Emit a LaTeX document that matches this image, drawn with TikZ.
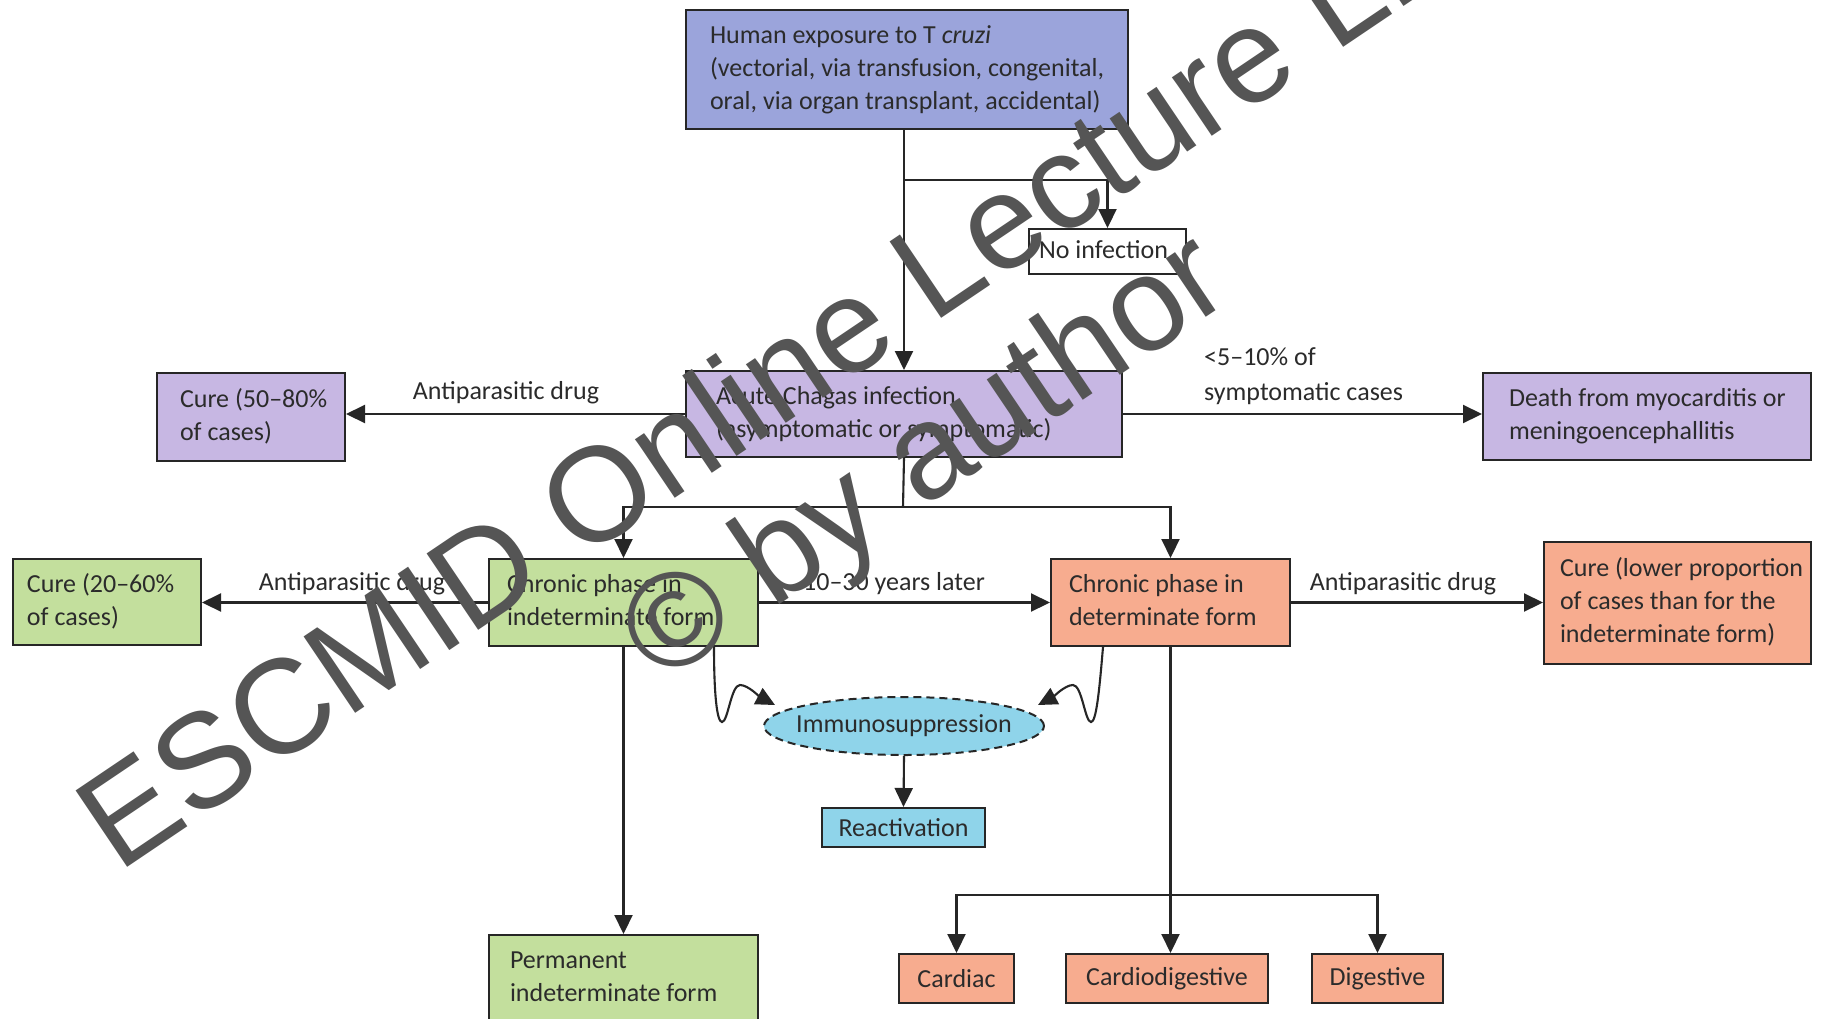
\documentclass[tikz,border=0pt]{standalone}
\usepackage{fontspec}
\setmainfont{Carlito}
\newfontfamily\wmfont{Liberation Sans}
\usetikzlibrary{arrows.meta,shapes.geometric}
\definecolor{blueF}{HTML}{9BA4DB}
\definecolor{lavF}{HTML}{C7B7E3}
\definecolor{greenF}{HTML}{C3DF9D}
\definecolor{orangeF}{HTML}{F7AC8F}
\definecolor{cyanF}{HTML}{8FD4EA}
\definecolor{linecol}{HTML}{262626}
\definecolor{txtcol}{HTML}{2B2B2B}
\definecolor{wmgray}{HTML}{555555}
\newcommand\mainsize{\fontsize{26}{33}\selectfont}
\newcommand\boxtext[2]{\makebox[#1][l]{\begin{tabular}{@{}l@{}}#2\end{tabular}}}
\tikzset{
 bx/.style={draw=linecol, line width=2pt, anchor=north west, inner ysep=0pt, font=\mainsize, text=txtcol},
 cbx/.style={draw=linecol, line width=2pt, anchor=north west, inner sep=0pt, font=\mainsize, text=txtcol},
 lab/.style={font=\mainsize, text=txtcol, inner sep=0pt},
 ln/.style={draw=linecol, line width=2.1pt},
 arr/.style={ln, -{Triangle[length=19pt,width=18pt]}},
 wm/.style={font=\wmfont\fontsize{134}{134}\selectfont, text=wmgray, inner sep=0pt, rotate=34, anchor=base west},
}
\begin{document}
\begin{tikzpicture}[x=1pt,y=-1pt]
\useasboundingbox (0,0) rectangle (1823,1018);
\clip (0,0) rectangle (1823,1018);
\fill[white] (0,0) rectangle (1823,1018);

% boxes
\node[bx, fill=blueF, inner xsep=24pt, minimum height=119pt] (expo) at (685,9)
  {\boxtext{394pt}{Human exposure to T \textit{cruzi}\\(vectorial, via transfusion, congenital,\\oral, via organ transplant, accidental)}};
\node[bx, fill=white, inner xsep=10pt, minimum height=45pt] (noinf) at (1028,228)
  {\boxtext{137pt}{No infection}};
\node[bx, fill=lavF, inner xsep=30pt, minimum height=86pt] (acute) at (685,370)
  {\boxtext{376pt}{Acute Chagas infection\\(asymptomatic or symptomatic)}};
\node[bx, fill=lavF, inner xsep=23pt, minimum height=88pt] (cure1) at (156,372)
  {\boxtext{142pt}{Cure (50–80\%\\of cases)}};
\node[bx, fill=lavF, inner xsep=26pt, minimum height=87pt] (death) at (1482,372)
  {\boxtext{276pt}{Death from myocarditis or\\meningoencephallitis}};
\node[bx, fill=greenF, inner xsep=18pt, minimum height=87pt] (chrind) at (488,558)
  {\boxtext{233pt}{Chronic phase in\\indeterminate form}};
\node[bx, fill=greenF, inner xsep=14pt, minimum height=86pt] (cure2) at (12,558)
  {\boxtext{160pt}{Cure (20–60\%\\of cases)}};
\node[bx, fill=orangeF, inner xsep=18pt, minimum height=87pt] (chrdet) at (1050,558)
  {\boxtext{203pt}{Chronic phase in\\determinate form}};
\node[bx, fill=orangeF, inner xsep=16pt, minimum height=122pt] (cure3) at (1543,541)
  {\boxtext{235pt}{Cure (lower proportion\\of cases than for the\\indeterminate form)}};
\node[bx, fill=greenF, inner xsep=21pt, minimum height=86pt] (perm) at (488,934)
  {\boxtext{227pt}{Permanent\\indeterminate form}};
\node[cbx, fill=orangeF, minimum width=115pt, minimum height=49pt] (cardiac) at (898,953) {Cardiac};
\node[cbx, fill=orangeF, minimum width=202pt, minimum height=49pt] (cardiodig) at (1065,953) {Cardiodigestive};
\node[cbx, fill=orangeF, minimum width=131pt, minimum height=49pt] (digest) at (1311,953) {Digestive};
\node[ellipse, draw=linecol, line width=2pt, dash pattern=on 8pt off 5pt, fill=cyanF, minimum width=280pt, minimum height=58pt,
      inner sep=0pt, font=\mainsize, text=txtcol] (immuno) at (904,726) {\makebox[0pt]{Immunosuppression}};
\node[cbx, fill=cyanF, minimum width=163pt, minimum height=39pt] (react) at (821,807) {Reactivation};

% labels
\node[lab, anchor=base] (l1) at (506,399) {Antiparasitic drug};
\node[lab, anchor=base west] (l2) at (1204,365) {\begin{tabular}[t]{@{}l@{}}<5–10\% of\\[2pt]symptomatic cases\end{tabular}};
\node[lab, anchor=base] (l3) at (352,590) {Antiparasitic drug};
\node[lab, anchor=base] (l4) at (894,590) {10–30 years later};
\node[lab, anchor=base] (l5) at (1403,590) {Antiparasitic drug};

% connectors
\coordinate (br1) at (903,180);
\coordinate (sp) at (903,507);
\coordinate (tb) at (1168,895);
\coordinate (tipL) at (775,705);
\coordinate (tipR) at (1038,705);

\draw[arr] (acute.north |- expo.south) -- (acute.north);
\draw[arr] (br1) -| (noinf.north);
\draw[arr] (acute.west) -- (acute.west -| cure1.east);
\draw[arr] (acute.east) -- (acute.east -| death.west);
\draw[ln] (acute.south) -- (sp);
\draw[arr] (sp) -| (chrind.north);
\draw[arr] (sp) -| (chrdet.north);
\draw[arr] (chrind.west) -- (chrind.west -| cure2.east);
\draw[arr] (chrind.east) -- (chrind.east -| chrdet.west);
\draw[arr] (chrdet.east) -- (chrdet.east -| cure3.west);
\draw[arr] (chrind.south) -- (perm.north);
\draw[arr] (chrdet.south) -- (chrdet.south |- cardiodig.north);
\draw[arr] (tb) -| (cardiac.north);
\draw[arr] (tb) -| (digest.north);
\draw[arr] (immuno.south) -- (react.north);
\draw[arr] ([xshift=-45pt]chrind.south east) .. controls (714,695) and (717,722) .. (722,722)
   .. controls (728,722) and (731,685) .. (740,685) .. controls (748,685) and (760,697) .. (tipL);
\draw[arr] ([xshift=-188pt]chrdet.south east) .. controls (1099,695) and (1096,722) .. (1091,722)
   .. controls (1085,722) and (1082,685) .. (1073,685) .. controls (1065,685) and (1053,697) .. (tipR);

% watermark
\node[wm] (wm1) at (118,874) {ESCMID Online Lecture Library};
\node[wm] (wm2) at (660,686) {© by author};
\end{tikzpicture}
\end{document}
